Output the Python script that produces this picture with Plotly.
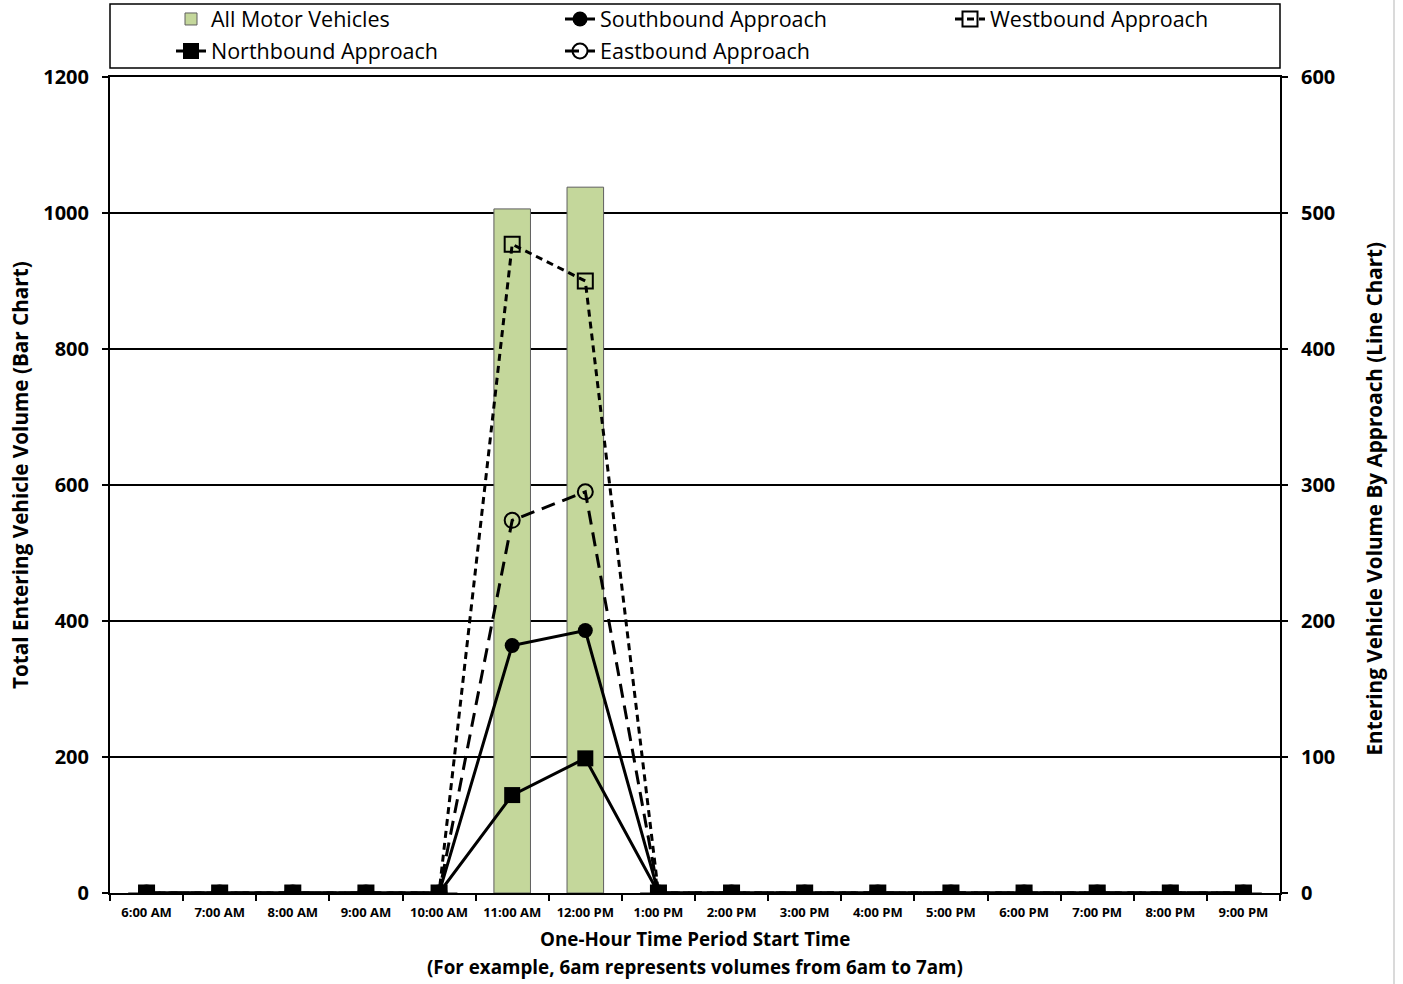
import plotly.graph_objects as go

categories = ["6:00 AM", "7:00 AM", "8:00 AM", "9:00 AM", "10:00 AM", "11:00 AM",
              "12:00 PM", "1:00 PM", "2:00 PM", "3:00 PM", "4:00 PM", "5:00 PM",
              "6:00 PM", "7:00 PM", "8:00 PM", "9:00 PM"]
all_motor = [0, 0, 0, 0, 0, 1006, 1038, 0, 0, 0, 0, 0, 0, 0, 0, 0]
southbound = [0, 0, 0, 0, 0, 182, 193, 0, 0, 0, 0, 0, 0, 0, 0, 0]
westbound = [0, 0, 0, 0, 0, 477, 450, 0, 0, 0, 0, 0, 0, 0, 0, 0]
northbound = [0, 0, 0, 0, 0, 72, 99, 0, 0, 0, 0, 0, 0, 0, 0, 0]
eastbound = [0, 0, 0, 0, 0, 274, 295, 0, 0, 0, 0, 0, 0, 0, 0, 0]
left_ticks = [0, 200, 400, 600, 800, 1000, 1200]
right_ticks = [0, 100, 200, 300, 400, 500, 600]

L, R, T, B = 110, 123, 77, 91
W, H = 1403, 984
PW, PH = W - L - R, H - T - B


def px_x(x):
    return (x - L) / PW


def px_y(y):
    return (H - B - y) / PH


fig = go.Figure()
fig.add_trace(go.Bar(
    x=categories, y=all_motor, name="All Motor Vehicles", width=0.5,
    marker=dict(color="#C4D79B", line=dict(color="#5f5f5f", width=1)),
    yaxis="y", legend="legend"))
fig.add_trace(go.Scatter(
    x=categories, y=westbound, name="Westbound Approach", mode="lines+markers",
    line=dict(color="black", width=3, dash="7px,5px"),
    marker=dict(symbol="square-open", size=15, color="black", line=dict(width=2)),
    yaxis="y2", legend="legend5"))
fig.add_trace(go.Scatter(
    x=categories, y=eastbound, name="Eastbound Approach", mode="lines+markers",
    line=dict(color="black", width=3, dash="14px,8px"),
    marker=dict(symbol="circle-open", size=15, color="black", line=dict(width=2)),
    yaxis="y2", legend="legend4"))
fig.add_trace(go.Scatter(
    x=categories, y=southbound, name="Southbound Approach", mode="lines+markers",
    line=dict(color="black", width=3),
    marker=dict(symbol="circle", size=15, color="black"),
    yaxis="y2", legend="legend3"))
fig.add_trace(go.Scatter(
    x=categories, y=northbound, name="Northbound Approach", mode="lines+markers",
    line=dict(color="black", width=3),
    marker=dict(symbol="square", size=16, color="black"),
    yaxis="y2", legend="legend2"))

bold = "Open Sans"
tickfont = dict(family=bold, size=20, color="black", weight="bold")
xtitlefont = dict(family=bold, size=18.8, color="black", weight="bold")
ytitlefont = dict(family=bold, size=20.7, color="black", weight="bold")

leg_common = dict(font=dict(family="Open Sans", size=21.5, color="black"),
                  bgcolor="rgba(0,0,0,0)", borderwidth=0,
                  xanchor="left", yanchor="middle", orientation="v")
col_x = [px_x(171), px_x(560), px_x(950)]
row_y = [px_y(19), px_y(51)]

fig.update_layout(
    width=W, height=H,
    margin=dict(l=L, r=R, t=T, b=B, autoexpand=False),
    paper_bgcolor="white", plot_bgcolor="white",
    showlegend=True,
    bargap=0.5,
    legend=dict(x=col_x[0], y=row_y[0], **leg_common),
    legend2=dict(x=col_x[0], y=row_y[1], **leg_common),
    legend3=dict(x=col_x[1], y=row_y[0], **leg_common),
    legend4=dict(x=col_x[1], y=row_y[1], **leg_common),
    legend5=dict(x=col_x[2], y=row_y[0], **leg_common),
    xaxis=dict(
        type="category", range=[-0.5, 15.5], tickson="boundaries",
        ticks="outside", ticklen=6, tickwidth=1.5, tickcolor="black",
        showline=True, linecolor="black", linewidth=2, mirror=True,
        showgrid=False, ticklabelstandoff=6,
        tickfont=dict(family=bold, size=13, color="black", weight="bold"),
    ),
    yaxis=dict(
        range=[0, 1200], tickvals=left_ticks, ticks="outside", ticklen=6,
        tickwidth=1.5, tickcolor="black",
        showline=True, linecolor="black", linewidth=2,
        showgrid=True, gridcolor="black", gridwidth=1.5, zeroline=False,
        tickfont=tickfont, ticklabelstandoff=9,
    ),
    yaxis2=dict(
        range=[0, 600], tickvals=right_ticks, overlaying="y", side="right",
        ticks="outside", ticklen=6, tickwidth=1.5, tickcolor="black",
        showline=True, linecolor="black", linewidth=2,
        showgrid=False, zeroline=False,
        tickfont=tickfont, ticklabelstandoff=9,
    ),
    annotations=[
        dict(text="One-Hour Time Period Start Time", xref="paper", yref="paper",
             x=px_x(694.5), y=px_y(939), xanchor="center", yanchor="middle",
             showarrow=False, font=xtitlefont),
        dict(text="(For example, 6am represents volumes from 6am to 7am)",
             xref="paper", yref="paper",
             x=px_x(694.5), y=px_y(967), xanchor="center", yanchor="middle",
             showarrow=False, font=xtitlefont),
        dict(text="Total Entering Vehicle Volume (Bar Chart)", xref="paper", yref="paper",
             x=px_x(20), y=px_y(475), xanchor="center", yanchor="middle",
             textangle=-90, showarrow=False, font=ytitlefont),
        dict(text="Entering Vehicle Volume By Approach (Line Chart)", xref="paper", yref="paper",
             x=px_x(1373), y=px_y(498.5), xanchor="center", yanchor="middle",
             textangle=-90, showarrow=False, font=ytitlefont),
    ],
    shapes=[
        dict(type="rect", xref="paper", yref="paper",
             x0=0, x1=1, y0=px_y(68), y1=px_y(4),
             line=dict(color="black", width=1.5), fillcolor="rgba(0,0,0,0)"),
        dict(type="line", xref="paper", yref="paper",
             x0=px_x(1394), x1=px_x(1394), y0=px_y(984), y1=px_y(0),
             line=dict(color="#b5b5b5", width=1)),
    ],
)

fig.write_html("out.html", config={"displayModeBar": False},
               post_script="document.body.style.margin='0';")
